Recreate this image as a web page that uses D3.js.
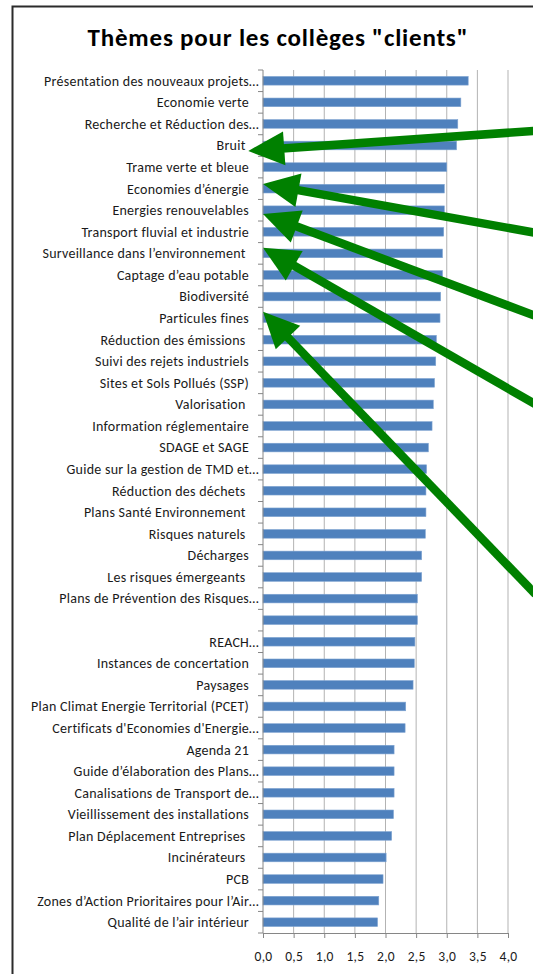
<!DOCTYPE html>
<html>
<head>
<meta charset="utf-8">
<script src="https://cdn.jsdelivr.net/npm/d3@7"></script>
<style>
  body { margin: 0; background: #fff; }
  svg text { font-family: Carlito, Lato, "Open Sans", sans-serif; }
</style>
</head>
<body>
<div id="chart"></div>
<script>

//==================================//
// Data
//

const title = 'Thèmes pour les collèges "clients"'

// trailing spaces are part of the original labels
const themes = [
    'Présentation des nouveaux projets…', 'Economie verte', 'Recherche et Réduction des…',
    'Bruit ', 'Trame verte et bleue', 'Economies d’énergie', 'Energies renouvelables',
    'Transport fluvial et industrie', 'Surveillance dans l’environnement ', 'Captage d’eau potable',
    'Biodiversité', 'Particules fines', 'Réduction des émissions ', 'Suivi des rejets industriels',
    'Sites et Sols Pollués (SSP)', 'Valorisation ', 'Information réglementaire', 'SDAGE et SAGE',
    'Guide sur la gestion de TMD et…', 'Réduction des déchets ', 'Plans Santé Environnement ',
    'Risques naturels ', 'Décharges', 'Les risques émergeants ', 'Plans de Prévention des Risques…',
    '', 'REACH…', 'Instances de concertation', 'Paysages', 'Plan Climat Energie Territorial (PCET)',
    'Certificats d\'Economies d\'Energie…', 'Agenda 21', 'Guide d’élaboration des Plans…',
    'Canalisations de Transport de…', 'Vieillissement des installations', 'Plan Déplacement Entreprises ',
    'Incinérateurs ', 'PCB', 'Zones d’Action Prioritaires pour l’Air…', 'Qualité de l’air intérieur'
]

const scores = [
    3.35, 3.23, 3.18, 3.16, 3.00, 2.96, 2.96, 2.95, 2.93, 2.93,
    2.90, 2.89, 2.83, 2.82, 2.80, 2.78, 2.76, 2.70, 2.67, 2.66,
    2.66, 2.65, 2.59, 2.59, 2.52, 2.52, 2.48, 2.47, 2.45, 2.33,
    2.32, 2.14, 2.14, 2.14, 2.13, 2.10, 2.01, 1.96, 1.89, 1.87
]

const xTicks = [0, 0.5, 1, 1.5, 2, 2.5, 3, 3.5, 4]

// green annotation arrows: tip / tail in (value, row index) units
const arrows = [
    {tip: [-0.24, 3.75], tail: [4.45, 2.82]},
    {tip: [0.0, 5.28],   tail: [4.45, 7.55]},
    {tip: [0.0, 6.67],   tail: [4.45, 11.4]},
    {tip: [0.0, 8.24],   tail: [4.45, 15.5]},
    {tip: [0.0, 11.2],   tail: [4.45, 24.3]}
]


//==================================//
// Layout
//

const svgw = 533, svgh = 974
const plotx0 = 263, plotx1 = 508
const ploty0 = 70, ploty1 = 933

const svg = d3.select('#chart').append('svg')
    .attr('width', svgw)
    .attr('height', svgh)

const x = d3.scaleLinear().domain([0, 4]).range([plotx0, plotx1])
const y = d3.scaleBand().domain(d3.range(themes.length))
    .range([ploty0, ploty1]).paddingInner(0.6).paddingOuter(0.3)
const yIdx = d3.scaleLinear().domain([0, themes.length]).range([ploty0, ploty1])

//====[ chart frame ]====//
svg.append('rect')
    .attr('x', 12.5).attr('y', 6.5)
    .attr('width', 600).attr('height', 1000)
    .attr('fill', 'none')
    .attr('stroke', '#2b2b2b')
    .attr('stroke-width', 2)

//====[ title ]====//
svg.append('text')
    .attr('x', 278).attr('y', 46)
    .attr('text-anchor', 'middle')
    .attr('font-size', 25)
    .attr('font-weight', 'bold')
    .attr('letter-spacing', 0.8)
    .attr('fill', '#000')
    .text(title)

//====[ gridlines ]====//
svg.append('g').selectAll('line')
    .data(xTicks.slice(1))
    .enter().append('line')
    .attr('x1', d => x(d)).attr('x2', d => x(d))
    .attr('y1', ploty0).attr('y2', ploty1)
    .attr('stroke', '#b3b3b3')
    .attr('stroke-width', 1)

//====[ bars ]====//
svg.append('g').selectAll('rect')
    .data(scores)
    .enter().append('rect')
    .attr('x', x(0))
    .attr('y', (d, i) => y(i))
    .attr('width', d => x(d) - x(0))
    .attr('height', y.bandwidth())
    .attr('fill', '#4f81bd')
    .attr('stroke', '#7ea3d1')
    .attr('stroke-width', 0.6)

//====[ x axis ]====//
const gx = svg.append('g')
    .attr('transform', 'translate(0,' + ploty1 + ')')
    .call(d3.axisBottom(x).tickValues(xTicks).tickSize(5).tickPadding(13)
        .tickFormat(d => d3.format('.1f')(d).replace('.', ',')))
gx.select('.domain').attr('stroke', '#868686')
gx.selectAll('.tick line').attr('stroke', '#868686')
gx.selectAll('.tick text')
    .attr('font-size', 13.5)
    .attr('letter-spacing', 0.3)
    .attr('fill', '#1a1a1a')
    .style('font-family', 'Carlito, Lato, "Open Sans", sans-serif')

//====[ y axis ]====//
svg.append('line')
    .attr('x1', plotx0).attr('x2', plotx0)
    .attr('y1', ploty0).attr('y2', ploty1)
    .attr('stroke', '#868686')

svg.append('g').selectAll('line')
    .data(d3.range(themes.length + 1))
    .enter().append('line')
    .attr('x1', plotx0 - 5).attr('x2', plotx0)
    .attr('y1', d => yIdx(d)).attr('y2', d => yIdx(d))
    .attr('stroke', '#868686')

svg.append('g').selectAll('text')
    .data(themes)
    .enter().append('text')
    .attr('x', d => d.endsWith('…') ? plotx0 - 4 : plotx0 - 14)
    .attr('y', (d, i) => y(i) + y.bandwidth() / 2)
    .attr('dy', '0.35em')
    .attr('text-anchor', 'end')
    .attr('font-size', 14)
    .attr('letter-spacing', 0.25)
    .attr('fill', '#1a1a1a')
    .style('white-space', 'pre')
    .text(d => d)

//====[ annotation arrows ]====//
const g_arrows = svg.append('g')
const headLen = 36, headHalf = 17

arrows.forEach(a => {
    let tx = x(a.tip[0]), ty = yIdx(a.tip[1])
    let sx = x(a.tail[0]), sy = yIdx(a.tail[1])
    let ang = Math.atan2(ty - sy, tx - sx)
    let bx = tx - headLen * Math.cos(ang), by = ty - headLen * Math.sin(ang)
    let px = -Math.sin(ang), py = Math.cos(ang)

    g_arrows.append('line')
        .attr('x1', sx).attr('y1', sy)
        .attr('x2', bx + 2 * Math.cos(ang)).attr('y2', by + 2 * Math.sin(ang))
        .attr('stroke', '#008000')
        .attr('stroke-width', 8.5)

    g_arrows.append('path')
        .attr('d', d3.line()([
            [tx, ty],
            [bx + px * headHalf, by + py * headHalf],
            [bx - px * headHalf, by - py * headHalf]
        ]) + 'Z')
        .attr('fill', '#008000')
})

</script>
</body>
</html>
